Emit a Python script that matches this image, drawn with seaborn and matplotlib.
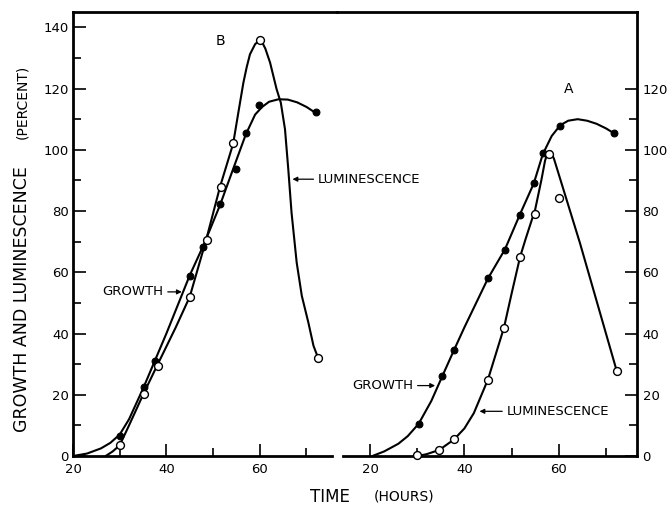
import numpy as np
import pandas as pd
import matplotlib
matplotlib.use("Agg")
import matplotlib.pyplot as plt
import seaborn as sns
from matplotlib.ticker import MultipleLocator, FixedLocator

# ---- panel B (left) : measured points ----
b_growth_x = [30, 35.2, 37.6, 45, 47.9, 51.5, 54.9, 57, 59.9, 72]
b_growth_y = [6.6, 22.4, 31.1, 58.8, 68.4, 82.2, 93.7, 105.4, 114.5, 112.2]
b_lum_x = [30.1, 35.2, 38.1, 45.1, 48.6, 51.6, 54.3, 60, 72.5]
b_lum_y = [3.6, 20.1, 29.3, 51.8, 70.6, 88, 102.2, 135.9, 32]

# smooth curves
b_growth_cx = [20, 23, 26, 28, 30, 32, 35, 37.5, 40, 45, 48, 51.5, 54, 57, 59, 60.5, 62, 64, 66, 68, 70, 72]
b_growth_cy = [0, 0.8, 2.5, 4.3, 7, 12, 22, 31, 40, 59, 69, 82, 92.5, 105, 111.5, 114, 115.7, 116.5, 116.4, 115.5, 114, 112]
b_lum_cx = [27, 28.5, 30, 32, 35, 38, 42, 45, 48.5, 51.5, 54.3, 55.5, 56.5, 57.2, 57.9, 59, 60.2, 61.2, 62.2,
            63.6, 64.5, 65.4, 66.1, 66.8, 67.9, 69, 70.4, 71.5, 72.5]
b_lum_cy = [0, 1.5, 3.5, 10, 20, 29.5, 42, 52, 70.5, 88, 102, 113, 122, 127, 131.2, 134.5, 136.1, 133, 128.5,
            119.8, 115.4, 106.7, 93.7, 79.5, 63.2, 52.3, 43.6, 36, 32]

# ---- panel A (right) : measured points ----
a_growth_x = [30.3, 35.3, 37.8, 44.9, 48.6, 51.8, 54.7, 56.6, 60.3, 71.7]
a_growth_y = [10.4, 26.1, 34.6, 58.0, 67.4, 78.7, 89.1, 98.9, 107.8, 105.4]
a_lum_x = [29.9, 34.7, 37.8, 45.0, 48.4, 51.8, 55.0, 58.0, 60.0, 72.3]
a_lum_y = [0.2, 1.9, 5.4, 24.7, 41.8, 64.9, 79.0, 98.6, 84.4, 27.7]

a_growth_cx = [20.5, 23, 26, 28, 30.3, 33, 35.3, 37.8, 40, 45, 48.6, 51.8, 54.7, 56.6, 58.5, 60.3, 62, 64, 66, 68, 70, 71.7]
a_growth_cy = [0, 1.5, 4, 6.5, 10.5, 18, 26, 34.6, 42, 58, 67.5, 79, 89, 98.5, 104.5, 108, 109.5, 110, 109.5, 108.5, 107, 105.4]
a_lum_cx = [30, 32, 34.7, 37.8, 40, 42, 45, 48.4, 50, 51.8, 53, 55, 56.3, 57.1, 57.7, 58.3, 59, 64.5, 72.3]
a_lum_cy = [0, 0.6, 2, 5.4, 9, 14, 25, 42, 53, 65, 71, 80.5, 90, 96.5, 99.2, 99.5, 97, 69.5, 27.7]

sns.set_style("ticks")
plt.rcParams['font.family'] = ['DejaVu Sans']
plt.rcParams['text.color'] = 'black'

fig = plt.figure(figsize=(6.69, 5.11), dpi=100)
ax1 = fig.add_axes([0.1091, 0.1076, 0.3946, 0.8689])
ax2 = fig.add_axes([0.5037, 0.1076, 0.4484, 0.8689])
ax1.set_zorder(2)
ax1.patch.set_visible(False)
ax2.patch.set_visible(False)

lw = 1.5
spw = 2.0


def draw(ax, gcx, gcy, lcx, lcy, gx, gy, lx, ly):
    sns.lineplot(x=gcx, y=gcy, ax=ax, color='black', lw=lw, sort=False, estimator=None)
    sns.lineplot(x=lcx, y=lcy, ax=ax, color='black', lw=lw, sort=False, estimator=None)
    sns.scatterplot(x=gx, y=gy, ax=ax, color='black', s=24, edgecolor='black',
                    linewidth=0.8, zorder=5, clip_on=False)
    sns.scatterplot(x=lx, y=ly, ax=ax, color='white', s=32, edgecolor='black',
                    linewidth=1.0, zorder=5, clip_on=False)


draw(ax1, b_growth_cx, b_growth_cy, b_lum_cx, b_lum_cy, b_growth_x, b_growth_y, b_lum_x, b_lum_y)
draw(ax2, a_growth_cx, a_growth_cy, a_lum_cx, a_lum_cy, a_growth_x, a_growth_y, a_lum_x, a_lum_y)

# left axes
ax1.set_xlim(20, 76.53)
ax1.set_ylim(0, 145)
ax1.spines['right'].set_visible(False)
ax1.spines['bottom'].set_bounds(20, 75.5)
ax1.xaxis.set_major_locator(FixedLocator([20, 40, 60]))
ax1.xaxis.set_minor_locator(FixedLocator([30, 50, 70]))
ax1.yaxis.set_major_locator(MultipleLocator(20))
ax1.yaxis.set_minor_locator(MultipleLocator(10))

# right axes
ax2.set_xlim(13.0, 76.57)
ax2.set_ylim(0, 145)
ax2.spines['left'].set_visible(False)
ax2.spines['bottom'].set_bounds(14.3, 76.57)
ax2.yaxis.tick_right()
ax2.xaxis.set_major_locator(FixedLocator([20, 40, 60]))
ax2.xaxis.set_minor_locator(FixedLocator([30, 50, 70]))
ax2.yaxis.set_major_locator(FixedLocator([0, 20, 40, 60, 80, 100, 120]))
ax2.yaxis.set_minor_locator(FixedLocator([10, 30, 50, 70, 90, 110]))

for ax in (ax1, ax2):
    for s in ax.spines.values():
        s.set_linewidth(spw)
        s.set_color('black')
    ax.tick_params(which='major', direction='in', length=9, width=1.2, labelsize=9.5,
                   color='black', labelcolor='black')
    ax.tick_params(which='minor', direction='in', length=5.5, width=1.2, color='black')
    ax.tick_params(axis='y', pad=3)
    ax.tick_params(axis='x', pad=5)
    ax.set_xlabel('')
    ax.set_ylabel('')
ax2.tick_params(axis='y', pad=4)

# annotations
arrow = dict(arrowstyle='-|>', color='black', lw=0.9, mutation_scale=7, shrinkA=1, shrinkB=0)
ax1.text(51.5, 135.5, 'B', fontsize=10, ha='center', va='center', color='black')
ax2.text(62.0, 120, 'A', fontsize=10, ha='center', va='center', color='black')
ax1.annotate('LUMINESCENCE', xy=(67.0, 90.4), xytext=(72.5, 90.4), fontsize=9.5,
             ha='left', va='center', arrowprops=arrow, annotation_clip=False)
ax1.annotate('GROWTH', xy=(43.3, 53.6), xytext=(39.3, 53.6), fontsize=9.5,
             ha='right', va='center', arrowprops=arrow)
ax2.annotate('GROWTH', xy=(33.8, 23.0), xytext=(29.1, 23.0), fontsize=9.5,
             ha='right', va='center', arrowprops=arrow)
ax2.annotate('LUMINESCENCE', xy=(43.2, 14.6), xytext=(49.0, 14.6), fontsize=9.5,
             ha='left', va='center', arrowprops=arrow)

# axis titles
fig.text(0.033, 0.415, 'GROWTH AND LUMINESCENCE', rotation=90, fontsize=12.5,
         ha='center', va='center')
fig.text(0.033, 0.80, '(PERCENT)', rotation=90, fontsize=10, ha='center', va='center')
fig.text(330 / 669, 1 - 497 / 511, 'TIME', fontsize=12, ha='center', va='center')
fig.text(404 / 669, 1 - 496 / 511, '(HOURS)', fontsize=10, ha='center', va='center')

fig.savefig('out.png', dpi=100)
